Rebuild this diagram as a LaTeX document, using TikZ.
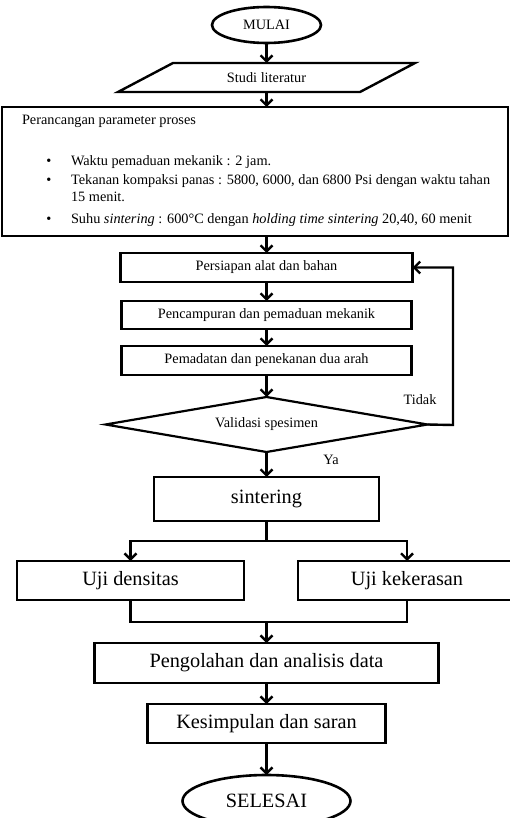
\documentclass[tikz,border=0pt]{standalone}
\usepackage{fontspec}
\setmainfont{Liberation Serif}
\usetikzlibrary{arrows.meta,shapes.geometric}
\begin{document}
\begin{tikzpicture}[x=1pt,y=-1pt,
  every node/.style={inner sep=0pt, outer sep=0pt},
  sm/.style={font=\fontsize{14.3}{17}\selectfont},
  lg/.style={font=\fontsize{20.3}{24}\selectfont},
  box/.style={draw, line width=2.6pt, rectangle, align=center},
  ln/.style={line width=2.4pt, line join=miter},
  conn/.style={ln, -{Straight Barb[length=6pt,width=12pt,line width=2.4pt]}},
]
\fill[white] (0,0) rectangle (510,818);
\useasboundingbox (0,0) rectangle (510,818);
\clip (0,0) rectangle (510,818);

% start
\node[ellipse, draw, line width=2.6pt, minimum width=109pt, minimum height=36pt, sm] (mulai) at (266.5,25) {MULAI};

% parallelogram
\node[sm, minimum width=297pt, minimum height=29pt] (studi) at (266.5,77.5) {Studi literatur};
\draw[ln] ([xshift=55pt]studi.north west) -- (studi.north east) -- ([xshift=-55pt]studi.south east) -- (studi.south west) -- cycle;

% parameter box
\node[box, minimum width=506pt, minimum height=129pt] (param) at (255,171.5) {};
\node[sm, anchor=base west] (ptitle) at (22,125) {Perancangan parameter proses};
\node[sm, anchor=base] (bul1) at (49,166) {\textbullet};
\node[sm, anchor=base west] (it1) at (71,166) {Waktu pemaduan mekanik : 2 jam.};
\node[sm, anchor=base] (bul2) at (49,185) {\textbullet};
\node[sm, anchor=base west] (it2) at (71,185) {Tekanan kompaksi panas : 5800, 6000, dan 6800 Psi dengan waktu tahan};
\node[sm, anchor=base west] (it2b) at (71,202) {15 menit.};
\node[sm, anchor=base] (bul3) at (49,223) {\textbullet};
\node[sm, anchor=base west] (it3) at (71,223) {Suhu \textit{sintering} : 600°C dengan \textit{holding time sintering} 20,40, 60 menit};

% process boxes
\node[box, sm, minimum width=292pt, minimum height=29pt] (persiapan) at (266.5,267.5) {Persiapan alat dan bahan};
\node[box, sm, minimum width=290pt, minimum height=28pt] (pencampuran) at (266.5,315) {Pencampuran dan pemaduan mekanik};
\node[box, sm, minimum width=290pt, minimum height=29pt] (pemadatan) at (266.5,360.5) {Pemadatan dan penekanan dua arah};
\node[diamond, draw, line width=2.2pt, aspect=5.85, minimum width=322pt, minimum height=55pt, sm] (validasi) at (266.5,424.5) {Validasi spesimen};
\node[sm] (tidak) at (420,400) {Tidak};
\node[sm] (ya) at (331,460) {Ya};

\node[box, lg, minimum width=225pt, minimum height=44pt] (sintering) at (266.5,499) {sintering};
\node[box, lg, minimum width=227pt, minimum height=39pt] (densitas) at (130.5,580.5) {Uji densitas};
\node[box, lg, minimum width=218pt, minimum height=39pt] (kekerasan) at (407,580.5) {Uji kekerasan};
\node[box, lg, minimum width=344pt, minimum height=40pt] (pengolahan) at (266.5,663) {Pengolahan dan analisis data};
\node[box, lg, minimum width=238pt, minimum height=39pt] (kesimpulan) at (266.5,723.5) {Kesimpulan dan saran};
\node[ellipse, draw, line width=2.6pt, minimum width=168pt, minimum height=52pt, lg] (selesai) at (266.5,801) {SELESAI};

% helper coordinates
\coordinate (loopR) at (453,425);
\coordinate (split) at (266.5,541);
\coordinate (join) at (266.5,622);

% connectors
\draw[conn] (mulai) -- (studi);
\draw[conn] (studi.south) -- (studi.south |- param.north);
\draw[conn] (studi.south |- param.south) -- (persiapan.north);
\draw[conn] (persiapan) -- (pencampuran);
\draw[conn] (pencampuran) -- (pemadatan);
\draw[conn] (pemadatan) -- (validasi);
\draw[conn] (validasi.east) -- (loopR) |- (persiapan.east);
\draw[conn] (validasi) -- (sintering);
\draw[ln] (sintering.south) -- (split);
\draw[conn] (split) -| (densitas.north);
\draw[conn] (split) -| (kekerasan.north);
\draw[ln] (densitas.south) |- (join);
\draw[ln] (kekerasan.south) |- (join);
\draw[conn] (join) -- (pengolahan.north);
\draw[conn] (pengolahan) -- (kesimpulan);
\draw[conn] (kesimpulan) -- (selesai);
\end{tikzpicture}
\end{document}
